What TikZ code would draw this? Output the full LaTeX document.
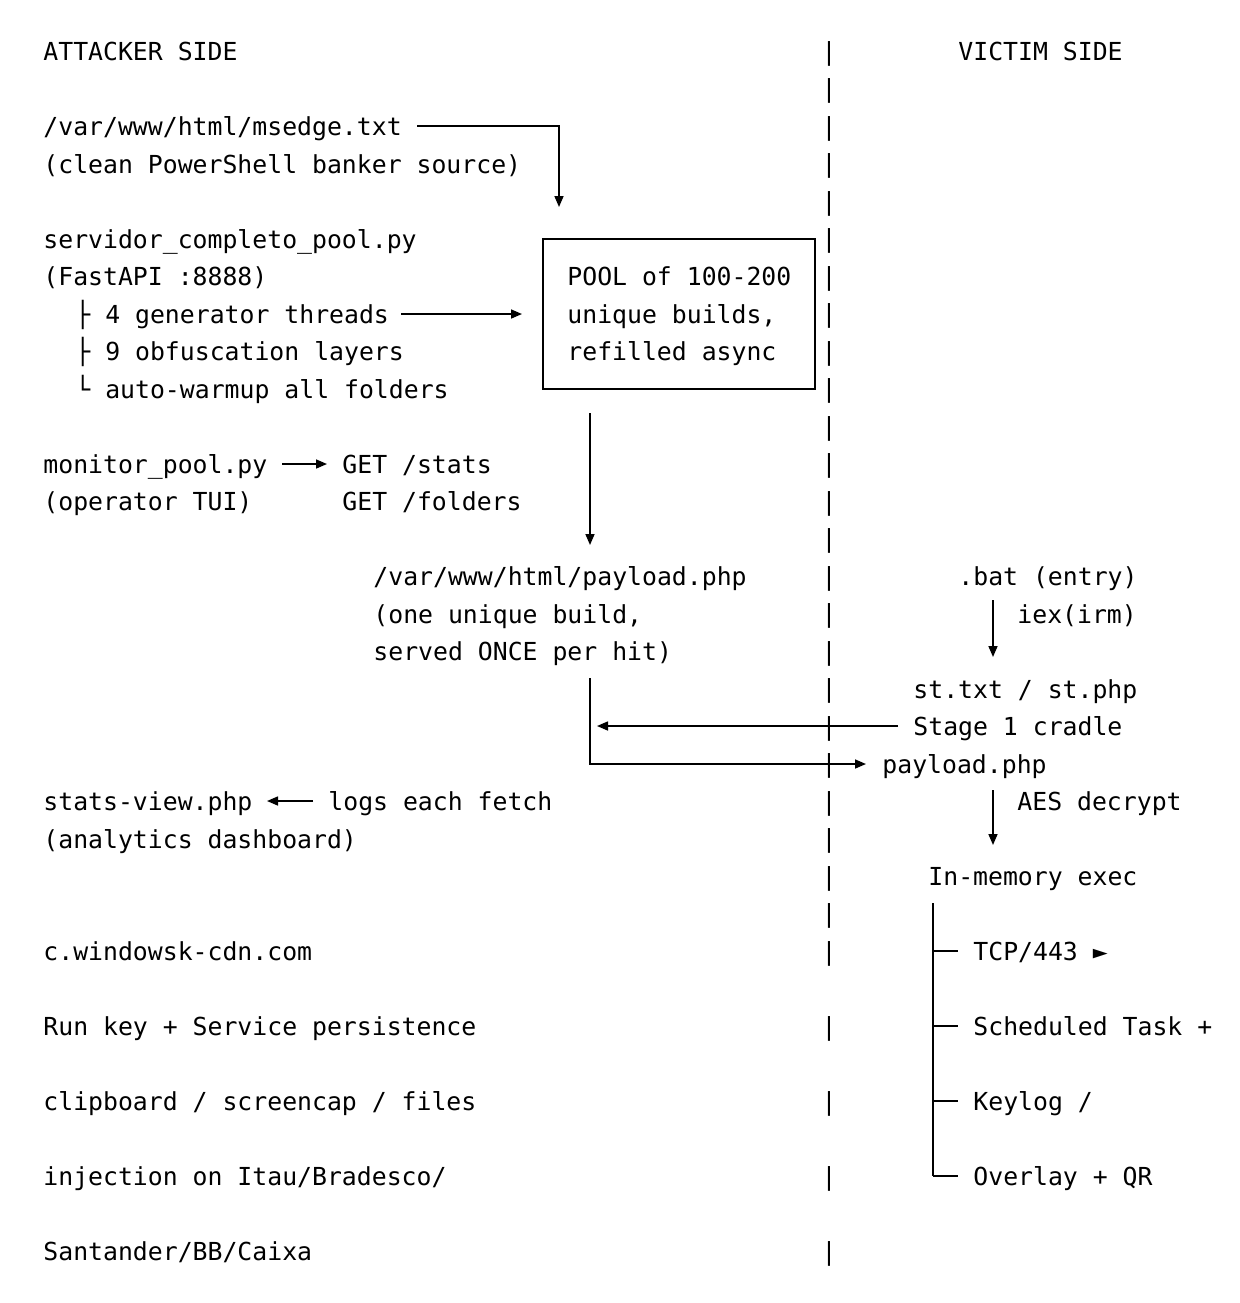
\documentclass[tikz,border=0pt]{standalone}
\usepackage{fontspec}
\setmonofont{DejaVu Sans Mono}
\usetikzlibrary{arrows.meta}
\newcommand{\mono}{\ttfamily\fontsize{12.4}{15}\selectfont}
\tikzset{
  txt/.style={anchor=base west,inner sep=0pt,font=\mono},
  bar/.style={anchor=base,inner sep=0pt,font=\mono},
  wire/.style={line width=0.8pt},
  arr/.style={wire,-{Triangle[length=5.5pt,width=4.5pt]}}
}
\begin{document}
\begin{tikzpicture}[x=0.5pt,y=-0.5pt]
\useasboundingbox[fill=white] (0,0) rectangle (1240,1303);
% divider
\foreach \k in {0,...,24,26,28,30,32}
  \node[bar] (div\k) at (829,{60+37.5*\k}) {|};
% headings
\node[txt] (att) at (43,60) {ATTACKER SIDE};
\node[txt] (vic) at (958,60) {VICTIM SIDE};
% source
\node[txt] (msedge) at (43,135) {/var/www/html/msedge.txt};
\node[txt] (clean) at (43,173) {(clean PowerShell banker source)};
\coordinate (srcA) at (417,126);
\coordinate (srcB) at (559,126);
\coordinate (srcC) at (559,207);
\draw[arr] (srcA) -- (srcB) -- (srcC);
% server
\node[txt] (srv) at (43,248) {servidor\_completo\_pool.py};
\node[txt] (fast) at (43,285) {(FastAPI :8888)};
\node[txt] (gen) at (75,323) {├ 4 generator threads};
\node[txt] (obf) at (75,360) {├ 9 obfuscation layers};
\node[txt] (warm) at (75,398) {└ auto-warmup all folders};
% pool box
\draw[wire] (543,239) rectangle (815,389);
\node[txt] (pool1) at (567,285) {POOL of 100-200};
\node[txt] (pool2) at (567,323) {unique builds,};
\node[txt] (pool3) at (567,360) {refilled async};
\coordinate (genE) at (401,314);
\coordinate (boxW) at (522,314);
\draw[arr] (genE) -- (boxW);
% monitor
\node[txt] (mon) at (43,473) {monitor\_pool.py};
\node[txt] (tui) at (43,510) {(operator TUI)};
\node[txt] (gstats) at (342,473) {GET /stats};
\node[txt] (gfold) at (342,510) {GET /folders};
\coordinate (monE) at (282,464);
\coordinate (getW) at (327,464);
\draw[arr] (monE) -- (getW);
\coordinate (boxS) at (590,413);
\coordinate (payN) at (590,545);
\draw[arr] (boxS) -- (payN);
% payload
\node[txt] (pay1) at (373,585) {/var/www/html/payload.php};
\node[txt] (pay2) at (373,623) {(one unique build,};
\node[txt] (pay3) at (373,660) {served ONCE per hit)};
% victim chain
\node[txt] (bat) at (958,585) {.bat (entry)};
\node[txt] (iex) at (1017,623) {iex(irm)};
\coordinate (batS) at (993,600);
\coordinate (stN) at (993,657);
\draw[arr] (batS) -- (stN);
\node[txt] (st) at (913,698) {st.txt / st.php};
\node[txt] (cradle) at (913,735) {Stage 1 cradle};
\node[txt] (vpay) at (882,773) {payload.php};
\coordinate (cradW) at (898,726);
\coordinate (payE) at (597,726);
\draw[arr] (cradW) -- (payE);
\coordinate (payS) at (590,678);
\coordinate (payC) at (590,764);
\coordinate (vpayW) at (866,764);
\draw[arr] (payS) -- (payC) -- (vpayW);
% stats
\node[txt] (sview) at (43,810) {stats-view.php};
\node[txt] (logs) at (328,810) {logs each fetch};
\node[txt] (dash) at (43,848) {(analytics dashboard)};
\coordinate (logsW) at (313,801);
\coordinate (sviewE) at (267,801);
\draw[arr] (logsW) -- (sviewE);
\node[txt] (aes) at (1017,810) {AES decrypt};
\coordinate (vpayS) at (993,790);
\coordinate (memN) at (993,845);
\draw[arr] (vpayS) -- (memN);
\node[txt] (mem) at (928,885) {In-memory exec};
% capabilities tree
\coordinate (treeT) at (933,903);
\coordinate (treeB) at (933,1176);
\draw[wire] (treeT) -- (treeB);
\foreach \y/\n in {951/tcp,1026/sched,1101/key,1176/ovl}
  \draw[wire] (933,\y) -- (958,\y);
\node[txt] (tcp) at (973,960) {TCP/443 ►};
\node[txt] (sched) at (973,1035) {Scheduled Task +};
\node[txt] (keyl) at (973,1110) {Keylog /};
\node[txt] (ovl) at (973,1185) {Overlay + QR};
% attacker capabilities
\node[txt] (cdn) at (43,960) {c.windowsk-cdn.com};
\node[txt] (run) at (43,1035) {Run key + Service persistence};
\node[txt] (clip) at (43,1110) {clipboard / screencap / files};
\node[txt] (inj) at (43,1185) {injection on Itau/Bradesco/};
\node[txt] (sant) at (43,1260) {Santander/BB/Caixa};
\end{tikzpicture}
\end{document}
